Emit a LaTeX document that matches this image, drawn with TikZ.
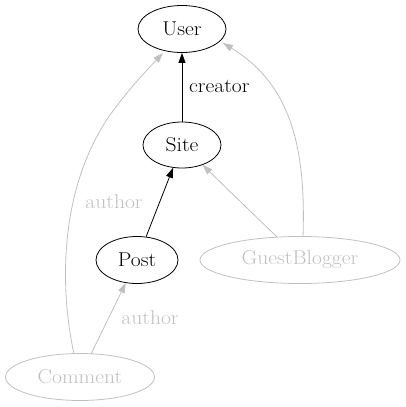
\documentclass[tikz,border=0pt]{standalone}
\usetikzlibrary{shapes.geometric,arrows.meta}
\definecolor{lg}{RGB}{192,192,192}
\newcommand\dgfont{\fontsize{20}{24}\selectfont}
\newcommand\dg[1]{\scalebox{1.08}[1]{#1}}
\begin{document}
\begin{tikzpicture}[x=1pt,y=-1pt,
  ent/.style={ellipse,draw,line width=0.8pt,inner sep=0pt,font=\dgfont},
  gent/.style={ent,draw=lg,text=lg},
  blk/.style={draw,line width=0.8pt,-{Triangle[length=10pt,width=7pt]}},
  gry/.style={draw=lg,line width=0.8pt,-{Triangle[length=10pt,width=7pt]},color=lg},
  lbl/.style={text=black,font=\dgfont},
  glbl/.style={text=lg,font=\dgfont}]
\useasboundingbox (0,0) rectangle (406,407);
\node[ent,minimum width=88pt,minimum height=47pt] (user) at (182,29) {\dg{User}};
\node[ent,minimum width=78pt,minimum height=46pt] (site) at (182,145) {\dg{Site}};
\node[ent,minimum width=82pt,minimum height=47pt] (post) at (137,260) {\dg{Post}};
\node[gent,minimum width=200pt,minimum height=47pt] (guest) at (300,260) {\dg{GuestBlogger}};
\node[gent,minimum width=149pt,minimum height=47pt] (comment) at (80,377) {\dg{Comment}};
\coordinate (cu1) at (74,354);
\coordinate (cu2) at (163,53);
\coordinate (gu1) at (303,237);
\coordinate (gu2) at (223,43);
\coordinate (gs1) at (277,237);
\coordinate (cp1) at (91,354);
\path[blk] (site) -- (user);
\node[lbl,anchor=west,inner sep=0pt] (lc) at (189,86) {\dg{creator}};
\path[blk] (post) -- (site);
\path[gry] (gs1) -- (site);
\path[gry] (gu1) .. controls (306,150) and (292,85) .. (gu2);
\path[gry] (cu1) .. controls (60,290) and (58,190) .. (110,115) .. controls (128,90) and (145,72) .. (cu2);
\node[glbl] (la1) at (114,202) {\dg{author}};
\path[gry] (cp1) -- (post);
\node[glbl] (la2) at (150,318) {\dg{author}};
\end{tikzpicture}
\end{document}
